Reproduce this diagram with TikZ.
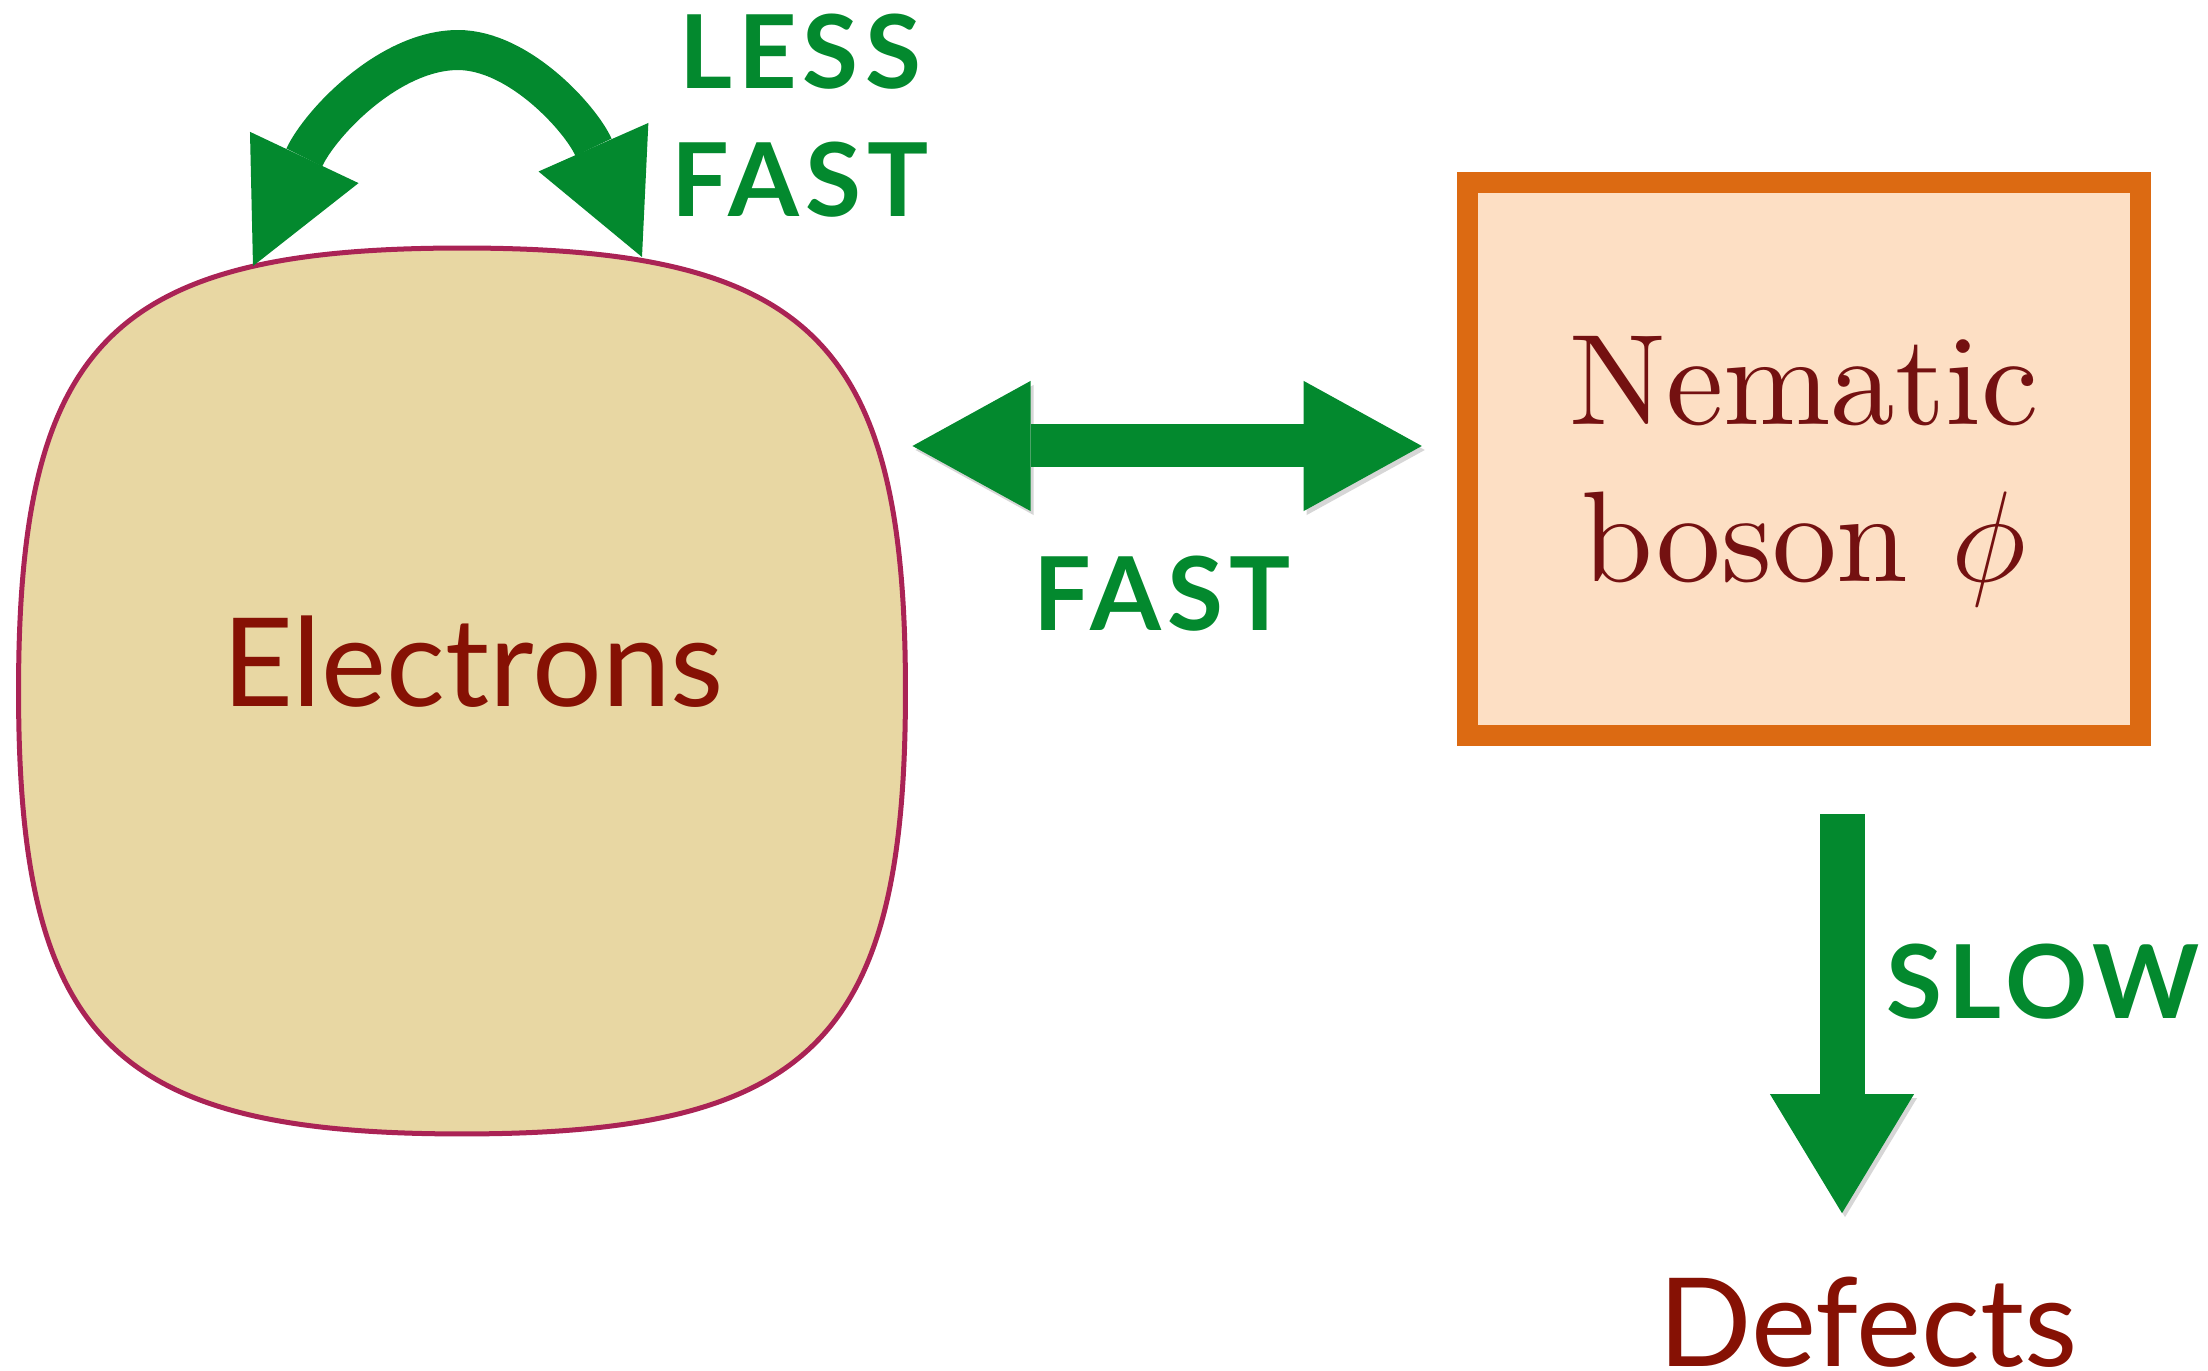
\RequirePackage{fix-cm}
\documentclass[tikz,border=0pt]{standalone}
\usepackage{fontspec}
\setsansfont{Lato}
\newfontfamily\bosonfont{lmroman10-regular.otf}
\usetikzlibrary{arrows.meta, calc}
\definecolor{fastgreen}{RGB}{3,137,46}
\definecolor{electronred}{RGB}{134,17,4}
\definecolor{bosonred}{RGB}{116,17,17}
\definecolor{cloudfill}{RGB}{232,215,163}
\definecolor{cloudedge}{RGB}{170,35,85}
\definecolor{bosonedge}{RGB}{220,106,18}
\definecolor{bosonfill}{RGB}{253,223,196}

\begin{document}
\begin{tikzpicture} [
      x=0.01cm, y=-0.01cm,
      font=\sffamily,
      cloud/.style={rectangle, inner sep=0pt, minimum width=8.85cm, minimum height=8.84cm},
      cloudline/.style={draw=cloudedge, line width=0.05cm, fill=cloudfill},
      boson/.style={rectangle, draw=bosonedge, line width=0.21cm, fill=bosonfill, minimum width=6.73cm, minimum height=5.53cm, align=center, text depth=0pt, text=bosonred, font=\bosonfont\fontsize{36.7}{44.7}\selectfont},
      title/.style={inner sep=0pt, anchor=base, text=electronred, font=\sffamily\fontsize{35}{42}\selectfont},
      speed/.style={inner sep=0pt, align=center, text=fastgreen, font=\sffamily\bfseries\fontsize{29}{36.4}\selectfont\addfontfeature{LetterSpace=6}},
      shade/.style={preaction={draw=black!16, transform canvas={shift={(3,4)}}}},
      fastarrow/.style={draw=fastgreen, line width=0.43cm, arrows={Triangle[length=1.18cm, width=1.30cm, line width=0pt]-Triangle[length=1.18cm, width=1.30cm, line width=0pt]}},
      slowarrow/.style={draw=fastgreen, line width=0.45cm, arrows={-Triangle[length=1.19cm, width=1.44cm, line width=0pt]}},
      lessarrow/.style={draw=fastgreen, line width=0.40cm, arrows={Triangle[length=1.20cm, width=1.20cm, line width=0pt]-Triangle[length=1.20cm, width=1.20cm, line width=0pt]}}
  ]
  \useasboundingbox (0,0) rectangle (2208,1371);
  \node[cloud] (cloud) at (462,691) {};
  \filldraw[cloudline] (cloud.north) .. controls +(350,0) and +(0,-349) .. (cloud.east) .. controls +(0,349) and +(350,0) .. (cloud.south) .. controls +(-350,0) and +(0,349) .. (cloud.west) .. controls +(0,-349) and +(-350,0) .. (cloud.north) -- cycle;
  \node[title] (electrons) at (473,707) {Electrons};
  \node[boson] (boson) at (1804,459) {Nematic\\boson $\phi$};
  \node[title] (defects) at (1868,1367) {Defects};
  \node[speed] (lessfast) at (800,116) {LESS\\FAST};
  \node[speed, anchor=base] (fast) at (1162,631) {FAST};
  \node[speed, anchor=base] (slow) at (2043,1019) {SLOW};

  \draw[lessarrow] ($(cloud.north)+(-209,18)$) .. controls +(68,-144) and +(-68,0) .. ($(cloud.north)+(-4,-198)$) .. controls +(61,0) and +(-61,-138) .. ($(cloud.north)+(180,9)$);
  \draw[fastarrow, shade] ($(cloud.east)+(7,-245)$) -- ($(boson.west)+(-35,-13)$);
  \draw[slowarrow, shade] ($(boson.south)+(38,68)$) -- ($(boson.south)+(38,467)$);
\end{tikzpicture}
\end{document}
